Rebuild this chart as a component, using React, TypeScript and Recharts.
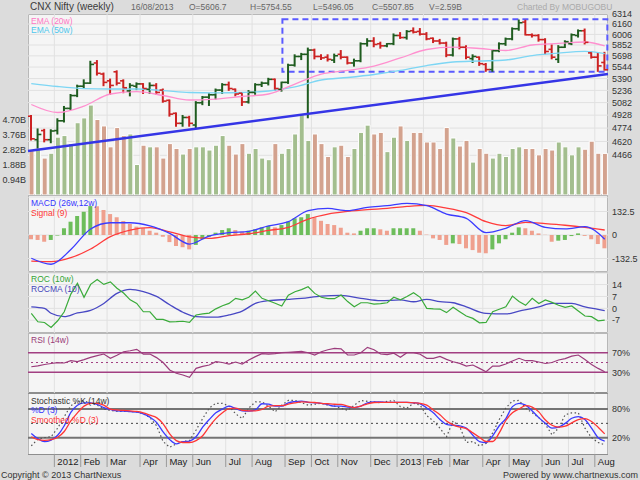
import {
  ComposedChart,
  Bar,
  Line,
  Scatter,
  XAxis,
  YAxis,
  CartesianGrid,
  ReferenceLine,
  ReferenceArea,
  Cell,
} from 'recharts'

// weekly bars, Dec 2011 .. 16 Aug 2013
const opens = [
  4915, 4640, 4745, 4640, 4745, 4860, 5010, 5170, 5290, 5330,
  5600, 5450, 5360, 5480, 5360, 5230, 5290, 5320, 5250, 5300,
  5240, 5110, 4950, 4830, 4900, 4810, 5080, 5150, 5180, 5240,
  5310, 5250, 5200, 5090, 5210, 5310, 5330, 5380, 5250, 5340,
  5570, 5690, 5720, 5780, 5690, 5680, 5640, 5720, 5680, 5600,
  5630, 5870, 5910, 5870, 5840, 5870, 5990, 5960, 6060, 6050,
  6010, 5950, 5910, 5880, 5710, 5940, 5820, 5660, 5680, 5580,
  5510, 5770, 5870, 5940, 6090, 6190, 6000, 5990, 5930, 5790,
  5650, 5820, 5870, 5990, 6060, 5740, 5680, 5606.7,
]
const highs = [
  4930, 4770, 4765, 4760, 4890, 5040, 5190, 5310, 5380, 5630,
  5640, 5470, 5390, 5500, 5380, 5330, 5340, 5330, 5340, 5330,
  5260, 5120, 4960, 4930, 4920, 5100, 5165, 5200, 5260, 5330,
  5350, 5260, 5210, 5240, 5330, 5350, 5400, 5390, 5350, 5590,
  5720, 5740, 5815, 5800, 5720, 5720, 5730, 5780, 5690, 5660,
  5890, 5950, 5965, 5900, 5880, 6020, 6040, 6070, 6110, 6100,
  6040, 5960, 5940, 5900, 5960, 5970, 5850, 5720, 5690, 5600,
  5790, 5890, 5960, 6110, 6229, 6225, 6020, 6010, 5950, 5860,
  5850, 5920, 6020, 6080, 6093, 5760, 5740, 5754.55,
]
const lows = [
  4630, 4540, 4610, 4600, 4700, 4840, 4990, 5150, 5260, 5320,
  5430, 5290, 5180, 5300, 5200, 5160, 5240, 5190, 5190, 5180,
  5080, 4910, 4790, 4790, 4790, 4770, 5050, 5040, 5120, 5190,
  5230, 5160, 5040, 5070, 5180, 5280, 5300, 5230, 5220, 5320,
  5550, 5640, 4890, 5650, 5640, 5620, 5600, 5650, 5580, 5550,
  5610, 5830, 5820, 5800, 5820, 5850, 5940, 5930, 6020, 5990,
  5920, 5880, 5860, 5680, 5690, 5790, 5650, 5600, 5560, 5480,
  5480, 5750, 5840, 5920, 6060, 5990, 5960, 5900, 5720, 5650,
  5600, 5810, 5850, 5960, 5860, 5660, 5480, 5496.05,
]
const closes = [
  4650, 4700, 4640, 4740, 4860, 5010, 5170, 5290, 5330, 5580,
  5460, 5340, 5300, 5330, 5270, 5300, 5320, 5260, 5300, 5210,
  5100, 4940, 4830, 4900, 4830, 5080, 5150, 5180, 5240, 5310,
  5260, 5190, 5090, 5210, 5310, 5330, 5380, 5260, 5340, 5570,
  5690, 5720, 5780, 5690, 5670, 5650, 5700, 5680, 5600, 5630,
  5870, 5910, 5860, 5840, 5870, 5990, 5960, 6050, 6040, 6010,
  5940, 5910, 5880, 5710, 5940, 5820, 5680, 5690, 5590, 5510,
  5770, 5870, 5940, 6090, 6180, 6000, 5990, 5930, 5760, 5680,
  5820, 5900, 6000, 6060, 5890, 5680, 5560, 5507.85,
]
// volume in billions
const volumes = [
  2.8, 2.85, 2.3, 2.6, 3.6, 3.7, 3.2, 4.5, 4.8, 5.6,
  4.7, 4.3, 3.0, 4.2, 3.7, 3.8, 1.9, 3.1, 3.0, 3.0,
  2.3, 3.2, 2.9, 2.55, 2.9, 3.0, 3.0, 2.8, 3.1, 3.7,
  3.1, 2.55, 3.2, 2.6, 2.9, 2.3, 2.2, 3.2, 2.6, 2.9,
  3.8, 5.0, 3.4, 3.8, 3.2, 2.4, 3.0, 3.1, 2.4, 2.9,
  3.9, 4.35, 3.8, 3.9, 2.7, 3.6, 4.3, 3.4, 3.9, 3.9,
  3.3, 3.3, 2.9, 4.2, 3.55, 3.05, 3.4, 2.05, 2.9, 2.6,
  2.3, 2.6, 2.4, 2.9, 3.0, 2.9, 2.9, 2.5, 2.9, 2.8,
  3.3, 3.0, 2.5, 3.0, 2.85, 3.35, 2.6, 2.59,
]
const macdHist = [
  -24, -28, -38, -28, -3, 38, 75, 107, 131, 163,
  162, 141, 118, 100, 79, 62, 47, 38, 24, 13,
  -10, -40, -62, -69, -81, -56, -24, -9, 13, 28,
  38, 28, 19, 24, 32, 43, 51, 43, 56, 75,
  94, 100, 118, 100, 80, 62, 56, 41, 13, 9,
  24, 38, 38, 32, 24, 38, 38, 38, 38, 24,
  2, -19, -28, -56, -47, -51, -75, -85, -100, -103,
  -81, -47, -24, 13, 43, 38, 24, 9, 1, -38,
  -32, -28, -6, 9, -5, -24, -51, -75,
]
const rocValues = [
  -2.9, -7.9, -8.3, -11.2, -7.3, -2, 8.4, 14.7, 6.5, 14.1,
  17, 14.1, 15.6, 11.8, 9, 5, 2.9, -2, -2, -6.5,
  -6.5, -7.9, -7.8, -7.6, -8.3, -3.9, -3.2, -2.8, -0.3, 1.5,
  2.9, 5.9, 5, 6.5, 10.2, 5.9, 4.5, 3, 1.4, 7.8,
  9.8, 11, 12.7, 8.8, 6.5, 5.7, 5.7, 7.8, 4, 0.9,
  3.3, 3.3, 2.5, 2.8, 3.3, 6.5, 5, 7, 9.2, 6.5,
  0, -0.3, -0.4, -2.5, 0.6, -2, -4.5, -5.9, -8.5, -8.3,
  -2, -0.5, 0.9, 7.2, 4, 1.8, 5.9, 2.9, 5, 3.5,
  1.8, 0.6, 1.4, -1.5, -4.5, -4.9, -7.3, -6.9,
]
const rsiValues = [
  41.4, 43, 46, 48, 49.6, 49, 53.7, 52, 56, 60.6,
  64, 67.3, 58.6, 65, 72, 74, 76.9, 67.3, 67.3, 60,
  50, 34.7, 28, 24.5, 19.8, 38.2, 42, 45, 51.6, 50,
  46.9, 51, 47, 55, 62, 68, 67.3, 68, 70, 71,
  72, 73, 70, 65.3, 72, 76, 79, 78, 65.3, 65.3,
  70, 81, 76.2, 67.3, 66, 69, 60.7, 70, 70, 67,
  58.6, 58.6, 62.6, 56.5, 51.6, 48.2, 42.8, 44.9, 38, 31.2,
  42.8, 42.8, 47, 53, 58.6, 53.7, 53.7, 51, 48, 50,
  55.1, 58, 63, 65.3, 56, 46, 38, 31.2,
]
const stochK = [
  3, 17, 20, 22, 40, 64, 87, 95, 97, 92,
  88, 80, 77, 75, 75, 75, 74, 70, 62, 45,
  12, 0, 7, 12, 14, 36, 60, 82, 92, 92,
  86, 70, 60, 82, 95, 95, 86, 74, 88, 98,
  98, 93, 88, 90, 92, 88, 86, 82, 77, 88,
  98, 96, 95, 93, 96, 98, 85, 82, 92, 88,
  66, 55, 40, 22, 55, 43, 10, 12, 3, 8,
  30, 58, 82, 97, 98, 82, 72, 62, 48, 26,
  40, 68, 72, 72, 40, 20, 10, 5,
]
const stochD = [
  29, 18, 11.6, 15, 25, 45, 73, 88, 93, 93,
  89.7, 83, 79, 76, 75.5, 74.5, 73.7, 70, 63, 52,
  32, 16, 7, 11.6, 13, 22, 42, 58, 72, 80,
  86, 81, 76, 75.5, 78, 91, 90, 86, 86, 93,
  95.5, 96.6, 94, 93, 92, 89, 86, 86, 84, 83,
  86, 93, 95, 95, 94, 94, 94, 94, 93, 91,
  82, 72, 58, 48, 46, 44.5, 40, 25, 12, 10,
  24, 45, 60, 85, 92, 88, 76, 62, 50, 40,
  42, 50, 60.6, 64, 58, 40, 20, 13,
]
const stochSmoothed = [
  22, 16, 14.5, 16, 21, 33, 55, 72, 86, 92,
  92, 88, 80, 78, 77, 76, 75, 72, 67, 62,
  49, 28, 14, 10, 10, 14, 24, 43, 60, 72,
  81, 82, 77, 76, 76, 79, 86, 87, 87, 90,
  93, 95, 94.5, 93.6, 92, 91, 90, 89.7, 86, 83,
  86, 91, 93.6, 94, 94, 94, 94, 94, 93, 92,
  88, 78, 68, 55, 47, 42, 39, 30, 21, 12,
  12, 30, 56, 72, 80, 87, 84, 74, 57, 46,
  42, 44, 51, 58, 60, 54, 42, 28,
]

// smoother series, read every few weeks
const emaWeeks = [0, 4, 8, 12, 16, 20, 24, 28, 32, 36, 40, 44, 48, 52, 56, 60, 64, 68, 72, 76, 80, 84, 87]
const ema20 = [5058, 4960, 5039, 5190, 5221, 5171, 5114, 5126, 5158, 5190, 5318, 5450, 5498, 5558, 5669, 5788, 5823, 5802, 5774, 5852, 5874, 5895, 5838]
const ema50 = [5325, 5286, 5260, 5254, 5254, 5234, 5209, 5203, 5209, 5228, 5280, 5371, 5404, 5444, 5498, 5565, 5613, 5627, 5641, 5703, 5738, 5760, 5731]
const macdWeeks = [0, 3, 6, 9, 12, 15, 18, 21, 24, 27, 30, 33, 36, 39, 42, 45, 48, 51, 54, 57, 60, 63, 66, 69, 72, 75, 78, 81, 84, 87]
const macdLine = [-131, -165, -82, 34, 69, 69, 51, 9, -51, -6, 13, 21, 51, 75, 137, 150, 137, 156, 165, 178, 165, 118, 94, 13, 38, 81, 43, 34, 47, -24]
const signalLine = [-147, -150, -128, -79, -9, 28, 41, 18, -11, -19, -4, 7, 26, 43, 90, 118, 133, 143, 150, 161, 167, 152, 126, 75, 53, 71, 64, 55, 43, 28]
const rocmaWeeks = [0, 2, 3, 5, 7, 9, 11, 13, 15, 17, 19, 21, 23, 25, 28, 30, 32, 34, 36, 39, 41, 44, 47, 50, 53, 56, 58, 60, 62, 64, 66, 69, 72, 74, 77, 79, 82, 84, 86, 87]
const rocmaValues = [0.9, 0, -2.9, -4.9, -2.7, -1.2, 2.9, 8.8, 11.2, 9.8, 7, 2.1, -2.3, -4.9, -5.2, -3.9, -1.6, 2.9, 4.5, 5.3, 5.9, 7.2, 7.6, 5.9, 4.5, 5, 3.9, 5.3, 3.9, 3.3, 0.9, -3, -3.3, -1.6, 0.9, 2.9, 2.9, 0.9, -0.6, -1.4]

// month boundaries (between weeks) and their labels
const monthTicks = [3.5, 7.5, 11.5, 16.5, 20.5, 24.5, 29.5, 33.5, 38.5, 42.5, 46.5, 51.5, 55.5, 59.5, 63.5, 68.5, 72.5, 77.5, 81.5, 85.5]
const monthLabels = ['2012', 'Feb', 'Mar', 'Apr', 'May', 'Jun', 'Jul', 'Aug', 'Sep', 'Oct', 'Nov', 'Dec', '2013', 'Feb', 'Mar', 'Apr', 'May', 'Jun', 'Jul', 'Aug']

const priceTicks = [4466, 4620, 4774, 4928, 5082, 5236, 5390, 5544, 5698, 5852, 6006, 6160, 6314]
const volumeTicks = [0.94, 1.88, 2.82, 3.76, 4.7]
const macdTicks = [-132.5, 0, 132.5]
const rocTicks = [-7, 0, 7, 14]
const rsiTicks = [30, 70]
const stochTicks = [20, 80]

const trendStart = { x: -0.5, y: 4513 }
const trendEnd = { x: 87.5, y: 5451 }
const boxWeeks = [38.1, 87.4]
const boxPrices = [5482, 6232]

const headerFields = ['16/08/2013', 'O=5606.7', 'H=5754.55', 'L=5496.05', 'C=5507.85', 'V=2.59B']
const headerLeft = [131, 189, 250, 313, 372, 429]

function sparse(weeks: number[], values: number[], i: number) {
  const k = weeks.indexOf(i)
  return k < 0 ? null : values[k]
}

const rows = opens.map((open, i) => ({
  i,
  open,
  high: highs[i],
  low: lows[i],
  close: closes[i],
  range: [lows[i], highs[i]],
  vol: volumes[i],
  hist: macdHist[i],
  roc: rocValues[i],
  rsi: rsiValues[i],
  k: stochK[i],
  d: stochD[i],
  sd: stochSmoothed[i],
  ema20: sparse(emaWeeks, ema20, i),
  ema50: sparse(emaWeeks, ema50, i),
  macd: sparse(macdWeeks, macdLine, i),
  signal: sparse(macdWeeks, signalLine, i),
  rocma: sparse(rocmaWeeks, rocmaValues, i),
}))

const FONT = '"Liberation Sans", Arial, sans-serif'
const BG = '#dcdcdc'
const PANEL = '#f5f5f5'
const GRID = '#e1e1e1'
const FRAME = '#8e8e8e'
const UP = '#1f5c1f'
const DOWN = '#cc2222'
const VOL_UP = '#a3be8e'
const VOL_DOWN = '#d3a28e'
const HIST_UP = '#6dbd5b'
const HIST_DOWN = '#efa08e'
const X_DOMAIN: [number, number] = [-0.5, 87.5]
const axisTick = { fontSize: 9, fill: '#333' }

function HighLow(props: any) {
  const { x, y, width, height, payload } = props
  if (x == null || y == null) return null
  const cx = x + width / 2
  return (
    <line
      x1={cx}
      x2={cx}
      y1={y}
      y2={y + height}
      stroke={payload.close >= payload.open ? UP : DOWN}
      strokeWidth={2}
    />
  )
}

function OpenTick(props: any) {
  const { cx, cy, payload } = props
  return (
    <line x1={cx - 3.5} x2={cx} y1={cy} y2={cy} strokeWidth={1.6}
      stroke={payload.close >= payload.open ? UP : DOWN} />
  )
}

function CloseTick(props: any) {
  const { cx, cy, payload } = props
  return (
    <line x1={cx} x2={cx + 3.5} y1={cy} y2={cy} strokeWidth={1.6}
      stroke={payload.close >= payload.open ? UP : DOWN} />
  )
}

function MonthTick(props: any) {
  const { x, y, payload } = props
  const label = monthLabels[monthTicks.indexOf(payload.value)]
  return (
    <g>
      <line x1={x} x2={x} y1={y} y2={y + 13} stroke="#9a9a9a" />
      <text x={x + 3} y={y + 10.5} fontSize={9.5} fill="#222">
        {label}
      </text>
    </g>
  )
}

function Txt({ x, y, size = 8.5, color = '#333', children }: any) {
  return (
    <div
      style={{
        position: 'absolute',
        left: x,
        top: y - size * 0.6,
        fontSize: size,
        lineHeight: 1.2,
        color,
        whiteSpace: 'nowrap',
      }}
    >
      {children}
    </div>
  )
}

function Place({ top, children }: any) {
  return <div style={{ position: 'absolute', left: 0, top }}>{children}</div>
}

const lineProps = {
  dot: false,
  activeDot: false,
  isAnimationActive: false,
  connectNulls: true,
}

export default function App() {
  return (
    <div
      style={{
        position: 'absolute',
        left: 0,
        top: 0,
        width: 640,
        height: 480,
        background: BG,
        fontFamily: FONT,
        overflow: 'hidden',
      }}
    >
      <div
        style={{
          position: 'absolute',
          left: 28,
          top: 14,
          width: 580,
          height: 441,
          background: PANEL,
          boxShadow: `inset 0 0 0 1px ${FRAME}`,
        }}
      />
      {[195, 272, 333, 393].map((y) => (
        <div key={y} style={{ position: 'absolute', left: 28, top: y - 1, width: 580, height: 2, background: FRAME }} />
      ))}

      {/* price + volume */}
      <Place top={6}>
        <ComposedChart width={640} height={197} data={rows} margin={{ top: 8, right: 0, bottom: 8, left: 0 }}>
          <XAxis xAxisId="v" dataKey="i" type="number" domain={X_DOMAIN} allowDataOverflow hide />
          <XAxis xAxisId="p" dataKey="i" type="number" domain={X_DOMAIN} ticks={monthTicks} allowDataOverflow hide />
          <YAxis
            yAxisId="vol"
            orientation="left"
            width={28}
            domain={[0, 11.27]}
            ticks={volumeTicks}
            interval={0}
            allowDataOverflow
            tickFormatter={(v: number) => `${v.toFixed(2)}B`}
            axisLine={false}
            tickLine={false}
            tickSize={0}
            tickMargin={2}
            tick={axisTick}
          />
          <YAxis
            yAxisId="price"
            orientation="right"
            width={32}
            scale="log"
            domain={[4052, 6314]}
            ticks={priceTicks}
            interval={0}
            allowDataOverflow
            axisLine={false}
            tickLine={false}
            tickSize={0}
            tickMargin={4}
            tick={axisTick}
          />
          <CartesianGrid xAxisId="p" yAxisId="price" stroke={GRID} />
          <Bar xAxisId="v" yAxisId="vol" dataKey="vol" barSize={5} stroke="#ffffff" strokeWidth={1} isAnimationActive={false}>
            {rows.map((r) => (
              <Cell key={r.i} fill={r.close >= r.open ? VOL_UP : VOL_DOWN} />
            ))}
          </Bar>
          <Line xAxisId="p" yAxisId="price" dataKey="ema50" type="monotone" stroke="#7dd6f4" strokeWidth={1.3} {...lineProps} />
          <Line xAxisId="p" yAxisId="price" dataKey="ema20" type="monotone" stroke="#ff90cf" strokeWidth={1.3} {...lineProps} />
          <ReferenceLine
            xAxisId="p"
            yAxisId="price"
            segment={[trendStart, trendEnd]}
            stroke="#3535e6"
            strokeWidth={2.5}
          />
          <ReferenceArea
            xAxisId="p"
            yAxisId="price"
            x1={boxWeeks[0]}
            x2={boxWeeks[1]}
            y1={boxPrices[0]}
            y2={boxPrices[1]}
            fill="none"
            fillOpacity={0}
            stroke="#5a5aff"
            strokeWidth={2}
            strokeDasharray="6 4"
          />
          <Bar xAxisId="p" yAxisId="price" dataKey="range" barSize={2} shape={HighLow} isAnimationActive={false} />
          <Scatter xAxisId="p" yAxisId="price" dataKey="open" shape={OpenTick} isAnimationActive={false} />
          <Scatter xAxisId="p" yAxisId="price" dataKey="close" shape={CloseTick} isAnimationActive={false} />
        </ComposedChart>
      </Place>

      {/* MACD */}
      <Place top={189}>
        <ComposedChart width={640} height={91} data={rows} margin={{ top: 8, right: 0, bottom: 8, left: 28 }}>
          <XAxis dataKey="i" type="number" domain={X_DOMAIN} ticks={monthTicks} allowDataOverflow hide />
          <YAxis orientation="right" width={32} domain={[-208.6, 214.2]} ticks={macdTicks} interval={0} allowDataOverflow
            axisLine={false} tickLine={false} tickSize={0} tickMargin={4} tick={axisTick} />
          <CartesianGrid stroke={GRID} />
          <Bar dataKey="hist" barSize={4} isAnimationActive={false}>
            {rows.map((r, n) => (
              <Cell key={r.i} fill={n > 0 && r.hist >= rows[n - 1].hist ? HIST_UP : HIST_DOWN} />
            ))}
          </Bar>
          <Line dataKey="signal" type="monotone" stroke="#ff3b3b" strokeWidth={1.3} {...lineProps} />
          <Line dataKey="macd" type="monotone" stroke="#3b3bff" strokeWidth={1.3} {...lineProps} />
        </ComposedChart>
      </Place>

      {/* ROC */}
      <Place top={265}>
        <ComposedChart width={640} height={76} data={rows} margin={{ top: 8, right: 0, bottom: 8, left: 28 }}>
          <XAxis dataKey="i" type="number" domain={X_DOMAIN} ticks={monthTicks} allowDataOverflow hide />
          <YAxis orientation="right" width={32} domain={[-14.5, 20.8]} ticks={rocTicks} interval={0} allowDataOverflow
            axisLine={false} tickLine={false} tickSize={0} tickMargin={4} tick={axisTick} />
          <CartesianGrid stroke={GRID} />
          <Line dataKey="rocma" type="monotone" stroke="#4848c4" strokeWidth={1.3} {...lineProps} />
          <Line dataKey="roc" type="linear" stroke="#3aab3a" strokeWidth={1.2} {...lineProps} />
        </ComposedChart>
      </Place>

      {/* RSI */}
      <Place top={326}>
        <ComposedChart width={640} height={75} data={rows} margin={{ top: 8, right: 0, bottom: 8, left: 28 }}>
          <XAxis dataKey="i" type="number" domain={X_DOMAIN} ticks={monthTicks} allowDataOverflow hide />
          <YAxis orientation="right" width={32} domain={[-12.2, 108.2]} ticks={rsiTicks} interval={0} allowDataOverflow
            tickFormatter={(v: number) => `${v}%`}
            axisLine={false} tickLine={false} tickSize={0} tickMargin={4} tick={axisTick} />
          <CartesianGrid stroke={GRID} horizontal={false} />
          <ReferenceLine y={70} stroke="#a23f82" strokeWidth={1.5} />
          <ReferenceLine y={30} stroke="#a23f82" strokeWidth={1.5} />
          <ReferenceLine y={50} stroke="#a23f82" strokeWidth={1} strokeDasharray="2 3" />
          <Line dataKey="rsi" type="linear" stroke="#9c3c7c" strokeWidth={1.2} {...lineProps} />
        </ComposedChart>
      </Place>

      {/* Stochastic + month axis */}
      <Place top={386}>
        <ComposedChart width={640} height={84} data={rows} margin={{ top: 8, right: 0, bottom: 0, left: 28 }}>
          <XAxis
            dataKey="i"
            type="number"
            domain={X_DOMAIN}
            ticks={monthTicks}
            interval={0}
            allowDataOverflow
            height={16}
            axisLine={false}
            tickLine={false}
            tickSize={0}
            tickMargin={0}
            tick={MonthTick}
          />
          <YAxis orientation="right" width={32} domain={[-14.1, 111.4]} ticks={stochTicks} interval={0} allowDataOverflow
            tickFormatter={(v: number) => `${v}%`}
            axisLine={false} tickLine={false} tickSize={0} tickMargin={4} tick={axisTick} />
          <CartesianGrid stroke={GRID} horizontal={false} />
          <ReferenceLine y={80} stroke="#747474" strokeWidth={2} />
          <ReferenceLine y={20} stroke="#747474" strokeWidth={2} />
          <ReferenceLine y={50} stroke="#444" strokeWidth={1} strokeDasharray="2 3" />
          <Line dataKey="k" type="linear" stroke="#555" strokeWidth={1.2} strokeDasharray="1.5 2.5" {...lineProps} />
          <Line dataKey="d" type="monotone" stroke="#3b3bff" strokeWidth={1.3} {...lineProps} />
          <Line dataKey="sd" type="monotone" stroke="#ff3535" strokeWidth={1.3} {...lineProps} />
        </ComposedChart>
      </Place>

      {/* header */}
      <Txt x={30} y={7} size={10} color="#3a3a3a">CNX Nifty (weekly)</Txt>
      {headerFields.map((t, n) => (
        <Txt key={t} x={headerLeft[n]} y={7} color="#666">{t}</Txt>
      ))}
      <Txt x={517} y={7} color="#aaa">Charted By MOBUGOBU</Txt>

      {/* legends */}
      <Txt x={31} y={21} color="#ff77c4">EMA (20w)</Txt>
      <Txt x={31} y={30.5} color="#4ec6ec">EMA (50w)</Txt>
      <Txt x={31} y={203.5} color="#3535ff">MACD (26w,12w)</Txt>
      <Txt x={31} y={213.5} color="#ff3535">Signal (9)</Txt>
      <Txt x={31} y={279.5} color="#35a535">ROC (10w)</Txt>
      <Txt x={31} y={289} color="#4545bb">ROCMA (10)</Txt>
      <Txt x={31} y={340} color="#993a77">RSI (14w)</Txt>
      <Txt x={31} y={401} color="#333">Stochastic %K (14w)</Txt>
      <Txt x={31} y={410.5} color="#3535ff">%D (3)</Txt>
      <Txt x={31} y={420.5} color="#ff3535">Smoothed %D (3)</Txt>

      {/* footer */}
      <Txt x={1} y={475} size={9} color="#333">Copyright © 2013 ChartNexus</Txt>
      <Txt x={503} y={475} size={9} color="#333">Powered by www.chartnexus.com</Txt>
    </div>
  )
}
